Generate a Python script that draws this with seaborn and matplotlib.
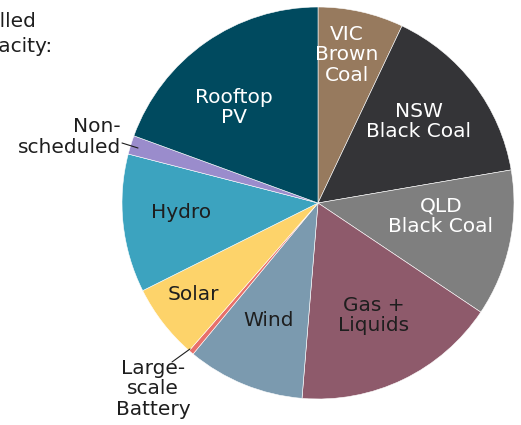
import matplotlib
matplotlib.use("Agg")
import matplotlib.pyplot as plt
import seaborn as sns
import numpy as np

categories = ["VIC\nBrown\nCoal", "NSW\nBlack Coal", "QLD\nBlack Coal", "Gas +\nLiquids", "Wind",
              "Large-\nscale\nBattery", "Solar", "Hydro", "Non-\nscheduled", "Rooftop\nPV"]
values = [7.05, 15.25, 12.1, 16.9, 9.7, 0.42, 6.2, 11.4, 1.55, 19.43]
colors = ["#977a5e", "#343437", "#7f7f7f", "#8e5a6b", "#7b9aaf",
          "#e8706a", "#fdd36a", "#3ca3bf", "#9a8ccc", "#004a5f"]
text_colors = ["white", "white", "white", "#1e1e1e", "#1e1e1e",
               "#1e1e1e", "#1e1e1e", "#1e1e1e", "#1e1e1e", "white"]

sns.set_theme(style="white")
plt.rcParams['font.family'] = ['DejaVu Sans']

W, H = 521, 425
fig = plt.figure(figsize=(W / 100, H / 100), dpi=100)
cx, cy, r = 318, 203, 196
ax = fig.add_axes([(cx - r) / W, (H - cy - r) / H, 2 * r / W, 2 * r / H])

palette = sns.color_palette(colors)
wedges, _ = ax.pie(values, colors=palette, startangle=90, counterclock=False,
                   wedgeprops=dict(edgecolor="white", linewidth=0.4))
ax.set_xlim(-1, 1)
ax.set_ylim(-1, 1)
ax.set_aspect("equal")
ax.axis("off")

# label placement: (angle clockwise from top in degrees, radius fraction)
label_polar = {
    0: (11.1, 0.77), 1: (51.0, 0.66), 2: (96.0, 0.63), 3: (153.8, 0.64),
    4: (202.9, 0.65), 6: (233.6, 0.79), 7: (266.0, 0.70), 9: (318.5, 0.65),
}
fs = 14.5
ls = 1.08
for i, (a, rad) in label_polar.items():
    t = np.deg2rad(a)
    ax.text(rad * np.sin(t), rad * np.cos(t), categories[i], ha="center", va="center",
            fontsize=fs, color=text_colors[i], linespacing=ls)

def px(x, y):
    return ((x - cx) / r, (cy - y) / r)

# Non-scheduled outside label
x, y = px(121, 137)
ax.text(x, y, categories[8], ha="right", va="center", fontsize=fs, color="#1e1e1e",
        multialignment="right", linespacing=ls)
x0, y0 = px(122, 143); x1, y1 = px(138, 148)
ax.plot([x0, x1], [y0, y1], color="#1e1e1e", lw=0.8, clip_on=False)

# Battery outside label
x, y = px(153, 389)
ax.text(x, y, categories[5], ha="center", va="center", fontsize=fs, color="#1e1e1e",
        linespacing=ls)
x0, y0 = px(172, 362); x1, y1 = px(190, 349)
ax.plot([x0, x1], [y0, y1], color="#1e1e1e", lw=0.8, clip_on=False)

# Cut-off title
fig.text(36 / W, 1 - 27 / H, "Installed", ha="right", va="baseline", fontsize=fs, color="#1e1e1e")
fig.text(53 / W, 1 - 52 / H, "capacity:", ha="right", va="baseline", fontsize=fs, color="#1e1e1e")

fig.savefig("out.png", dpi=100)
